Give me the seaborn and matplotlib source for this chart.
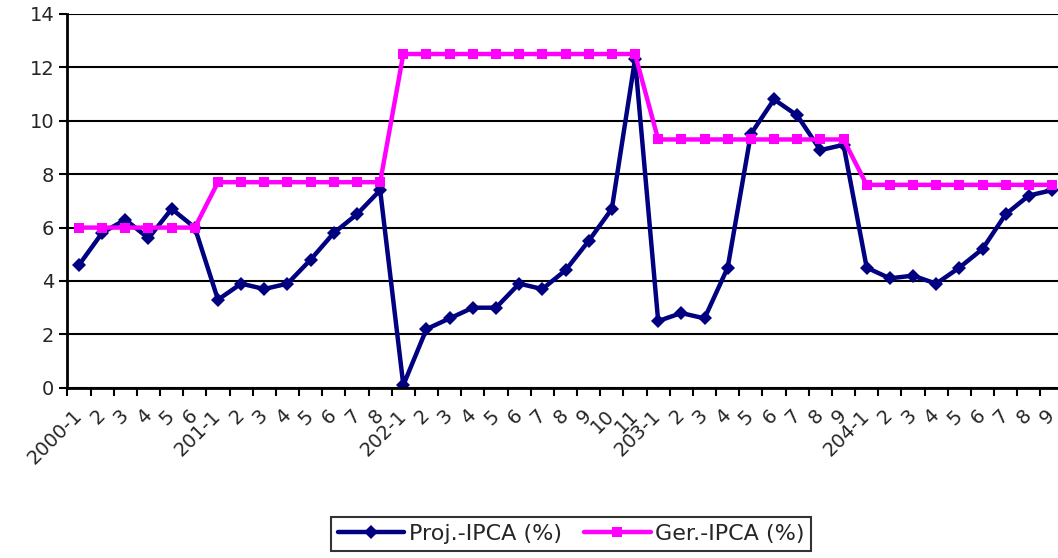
import numpy as np
import pandas as pd
import matplotlib
matplotlib.use("Agg")
import matplotlib.pyplot as plt
import seaborn as sns

tick_labels = ["2000-1", "2", "3", "4", "5", "6",
               "201-1", "2", "3", "4", "5", "6", "7", "8",
               "202-1", "2", "3", "4", "5", "6", "7", "8", "9", "10", "11",
               "203-1", "2", "3", "4", "5", "6", "7", "8", "9",
               "204-1", "2", "3", "4", "5", "6", "7", "8", "9"]
proj_ipca = [4.6, 5.8, 6.3, 5.6, 6.7, 6.0,
             3.3, 3.9, 3.7, 3.9, 4.8, 5.8, 6.5, 7.4,
             0.1, 2.2, 2.6, 3.0, 3.0, 3.9, 3.7, 4.4, 5.5, 6.7, 12.3,
             2.5, 2.8, 2.6, 4.5, 9.5, 10.8, 10.2, 8.9, 9.1,
             4.5, 4.1, 4.2, 3.9, 4.5, 5.2, 6.5, 7.2, 7.4]
ger_ipca = [6.0] * 6 + [7.7] * 8 + [12.5] * 11 + [9.3] * 9 + [7.6] * 9

n = len(tick_labels)
df = pd.DataFrame({
    "pos": list(range(n)) * 2,
    "valor": proj_ipca + ger_ipca,
    "serie": ["Proj.-IPCA (%)"] * n + ["Ger.-IPCA (%)"] * n,
})

sns.set_style("white")
plt.rcParams["font.family"] = ["DejaVu Sans"]

fig = plt.figure(figsize=(10.58, 5.58), dpi=100)
ax_left, ax_bottom, ax_w, ax_h = 0.0637, 0.305, 0.9416, 0.67
ax = fig.add_axes([ax_left, ax_bottom, ax_w, ax_h])

sns.lineplot(data=df, x="pos", y="valor", hue="serie", style="serie",
             palette={"Proj.-IPCA (%)": "#000080", "Ger.-IPCA (%)": "#FF00FF"},
             markers={"Proj.-IPCA (%)": "D", "Ger.-IPCA (%)": "s"},
             dashes=False, linewidth=3.2, markersize=7.5, markeredgewidth=0,
             ax=ax, legend=True)

ax.set_xlim(-0.5, n - 0.5)
ax.set_ylim(0, 14)
ax.set_yticks(range(0, 15, 2))
ax.yaxis.grid(True, color="black", linewidth=1.5)
ax.set_axisbelow(True)
ax.set_xticks(range(n))
ax.set_xticklabels(tick_labels, rotation=45, ha="right", va="center", rotation_mode="anchor")
ax.set_xticks(np.arange(-0.5, n, 1), minor=True)
ax.tick_params(axis="x", which="major", length=0, pad=18, labelsize=14)
ax.tick_params(axis="x", which="minor", length=6, width=1.5, color="black", direction="out", bottom=True)
ax.tick_params(axis="y", length=6, width=1.5, color="black", direction="out", left=True, labelsize=14)
ax.set_xlabel("")
ax.set_ylabel("")
for s in ["top", "right"]:
    ax.spines[s].set_visible(False)
for s in ["left", "bottom"]:
    ax.spines[s].set_color("black")
    ax.spines[s].set_linewidth(2)

# legend centred at (571, 534) px in the figure
leg_x = (571 / 1058 - ax_left) / ax_w
leg_y = (1 - 534 / 558 - ax_bottom) / ax_h
leg = ax.legend(loc="center", bbox_to_anchor=(leg_x, leg_y),
                ncol=2, frameon=True, fancybox=False, fontsize=16,
                handlelength=3.0, columnspacing=1.0, handletextpad=0.2,
                borderpad=0.3, borderaxespad=0)
leg.get_frame().set_edgecolor("black")
leg.get_frame().set_linewidth(1.5)

fig.savefig("out.png", dpi=100)
